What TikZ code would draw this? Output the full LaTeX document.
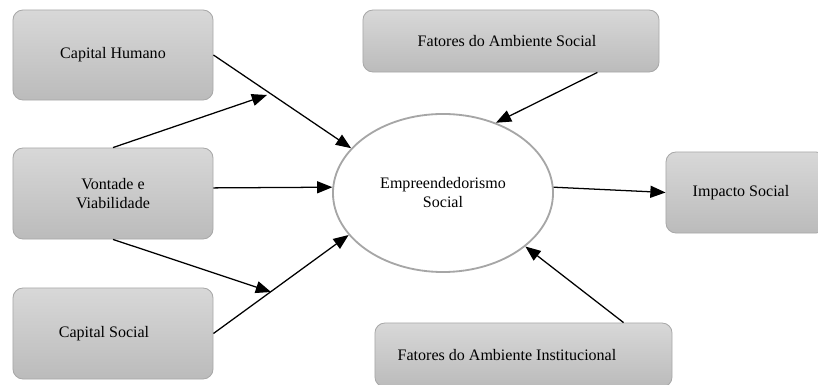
\documentclass[tikz,border=0pt]{standalone}
\usepackage{fontspec}
\setmainfont{Liberation Serif}
\usepackage{tikz}
\usetikzlibrary{shapes, arrows.meta}

\definecolor{boxtop}{HTML}{D8D8D8}
\definecolor{boxbot}{HTML}{BBBBBB}
\definecolor{boxline}{HTML}{A8A8A8}
\definecolor{ringline}{HTML}{A6A6A6}

\tikzset{
  box/.style={draw=boxline, line width=0.6pt, rounded corners=0.25cm,
    top color=boxtop, bottom color=boxbot, align=center, inner sep=0pt,
    font=\fontsize{11.4}{13.5}\selectfont},
  ring/.style={ellipse, draw=ringline, line width=1.3pt, fill=white,
    align=center, font=\fontsize{11.4}{13.5}\selectfont},
  conn/.style={-{Triangle[length=0.38cm,width=0.3cm]}, line width=0.9pt}
}

\begin{document}
\begin{tikzpicture}[x=0.025cm, y=-0.025cm]
\useasboundingbox (0,0) rectangle (818,385);
\node[box, minimum width=5cm, minimum height=2.25cm] (ch) at (113,55) {Capital Humano};
\node[box, minimum width=5cm, minimum height=2.275cm] (vv) at (113,193.5) {Vontade e\\Viabilidade};
\node[box, minimum width=5cm, minimum height=2.275cm] (cs) at (113,333.5) {Capital Social\hspace*{0.45cm}};
\node[box, minimum width=7.4cm, minimum height=1.55cm] (fs) at (511,41) {Fatores do Ambiente Social\hspace*{0.2cm}};
\node[box, minimum width=4cm, minimum height=2.025cm] (ip) at (746,192.5) {Impacto Social\hspace*{0.25cm}};
\node[box, minimum width=7.425cm, minimum height=1.6cm] (fi) at (523.5,355) {Fatores do Ambiente Institucional\hspace*{0.825cm}};
\node[ring, minimum width=5.5cm, minimum height=3.95cm] (es) at (443,193) {Empreendedorismo\\Social};
\coordinate (m1) at (267,95);
\coordinate (m2) at (271,292);
\draw[conn] (ch.east) -- (es.154);
\draw[conn] (vv.north) -- (m1);
\draw[conn] ([yshift=0.14cm]vv.east) -- (es.177);
\draw[conn] (vv.south) -- (m2);
\draw[conn] (cs.east) -- (es.204);
\draw[conn] (fs.-20.7) -- (es.53);
\draw[conn] ([xshift=2.5cm]fi.north) -- (es.-33);
\draw[conn] (es.3) -- (ip.west);
\end{tikzpicture}
\end{document}
